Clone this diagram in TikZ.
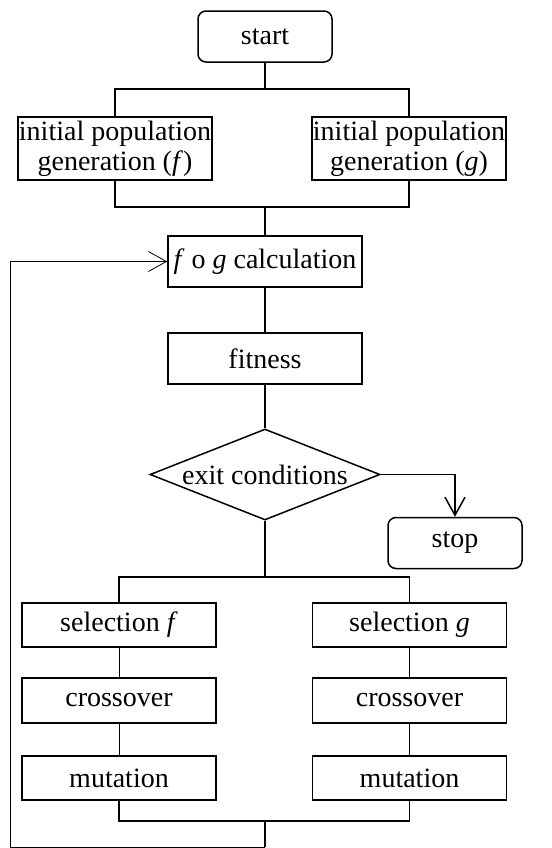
\documentclass[tikz,border=0pt]{standalone}
\usepackage{fontspec}
\setmainfont{Liberation Serif}
\usetikzlibrary{shapes.geometric,arrows.meta}

\tikzset{
  box/.style={draw,line width=0.75pt,inner sep=0pt,align=center,minimum width=97pt,minimum height=25.5pt},
  term/.style={box,rounded corners=4pt,minimum width=67pt,minimum height=25.5pt},
  cond/.style={draw,diamond,aspect=2.53,line width=0.75pt,inner sep=0pt,minimum width=115pt,minimum height=45.5pt},
  link/.style={line width=0.75pt},
  thinlink/.style={line width=0.4pt},
  arr/.style={-{Straight Barb[length=9pt,width=10pt]}}
}

\begin{document}
\begin{tikzpicture}[x=0.5pt,y=-0.5pt,font=\fontsize{14}{15}\selectfont]
\useasboundingbox (0,0) rectangle (552,848);
\node[term] (start) at (265,36.5) {start};
\node[box,minimum height=31.5pt] (initF) at (115,148.5) {initial population\\generation (\textit{f})};
\node[box,minimum height=31.5pt] (initG) at (409,148.5) {initial population\\generation (\textit{g})};
\node[box] (calc) at (265,261.5) {\textit{f} o \textit{g} calculation};
\node[box] (fit) at (265,358.5) {fitness};
\node[cond] (exit) at (265,474.5) {exit conditions};
\node[term] (stop) at (455,543) {stop};
\node[box,minimum height=22pt] (selF) at (119,625) {selection \textit{f}};
\node[box,minimum height=22pt] (selG) at (409.5,625) {selection \textit{g}};
\node[box,minimum height=22.5pt] (crossF) at (119,700.5) {crossover};
\node[box,minimum height=22.5pt] (crossG) at (409.5,700.5) {crossover};
\node[box,minimum height=22pt] (mutF) at (119,778) {mutation};
\node[box,minimum height=22pt] (mutG) at (409.5,778) {mutation};
\coordinate (j1) at (265,89);
\coordinate (j2) at (265,207);
\coordinate (j3) at (265,577);
\coordinate (j4) at (265,821);
\coordinate (loopA) at (265,847);
\coordinate (loopB) at (10,847);
\coordinate (loopC) at (10,261.5);
\draw[link] (start) -- (j1);
\draw[link] (initF) |- (j1) -| (initG);
\draw[link] (initF) |- (j2) -| (initG);
\draw[link] (j2) -- (calc);
\draw[link] (calc) -- (fit);
\draw[link] (fit) -- (exit);
\draw[link,arr] (exit.east) -| (stop);
\draw[link] (exit) -- (j3);
\draw[link] (selF) |- (j3) -| (selG);
\draw[thinlink] (selF) -- (crossF) -- (mutF);
\draw[thinlink] (selG) -- (crossG) -- (mutG);
\draw[link] (mutF) |- (j4) -| (mutG);
\draw[link] (j4) -- (loopA);
\draw[thinlink,arr] (loopA) -- (loopB) -- (loopC) -- (calc);
\end{tikzpicture}
\end{document}
